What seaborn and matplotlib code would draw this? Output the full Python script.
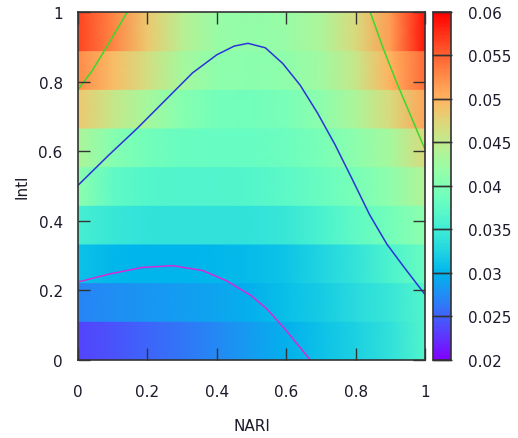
import numpy as np
import matplotlib
matplotlib.use("Agg")
import matplotlib.pyplot as plt
import seaborn as sns

# --- grid of the colour map ---
nari = [0.0, 0.1, 0.2, 0.3, 0.4, 0.5, 0.6, 0.7, 0.8, 0.9, 1.0]
intl_edges = np.linspace(0, 1, 10)  # 9 horizontal bands

# one list per band, bottom band first
band1 = [0.0235, 0.0243, 0.0252, 0.0262, 0.0272, 0.0285, 0.0298, 0.0310, 0.0322, 0.0338, 0.0365]
band2 = [0.0270, 0.0275, 0.0280, 0.0285, 0.0290, 0.0298, 0.0308, 0.0318, 0.0332, 0.0345, 0.0365]
band3 = [0.0310, 0.0302, 0.0300, 0.0300, 0.0302, 0.0306, 0.0312, 0.0325, 0.0342, 0.0360, 0.0382]
band4 = [0.0355, 0.0345, 0.0340, 0.0338, 0.0338, 0.0340, 0.0345, 0.0358, 0.0375, 0.0392, 0.0410]
band5 = [0.0410, 0.0375, 0.0366, 0.0364, 0.0364, 0.0366, 0.0372, 0.0382, 0.0395, 0.0412, 0.0440]
band6 = [0.0435, 0.0405, 0.0390, 0.0382, 0.0380, 0.0380, 0.0385, 0.0395, 0.0410, 0.0430, 0.0470]
band7 = [0.0485, 0.0455, 0.0430, 0.0405, 0.0392, 0.0390, 0.0395, 0.0410, 0.0435, 0.0470, 0.0510]
band8 = [0.0525, 0.0495, 0.0465, 0.0430, 0.0412, 0.0408, 0.0412, 0.0425, 0.0455, 0.0500, 0.0545]
band9 = [0.0565, 0.0530, 0.0485, 0.0445, 0.0420, 0.0415, 0.0420, 0.0435, 0.0470, 0.0515, 0.0590]
bands = [band1, band2, band3, band4, band5, band6, band7, band8, band9]

# --- contour lines (0.03, 0.04, 0.05) ---
c03_x = [0.0, 0.09, 0.186, 0.273, 0.359, 0.427, 0.499, 0.544, 0.592, 0.640, 0.669]
c03_y = [0.224, 0.247, 0.266, 0.271, 0.257, 0.228, 0.185, 0.147, 0.094, 0.036, 0.0]

c04_x = [0.0, 0.09, 0.17, 0.25, 0.33, 0.40, 0.45, 0.49, 0.54, 0.59, 0.64, 0.69, 0.74, 0.79, 0.84, 0.89, 0.94, 1.0]
c04_y = [0.502, 0.59, 0.665, 0.745, 0.825, 0.877, 0.902, 0.910, 0.897, 0.852, 0.79, 0.71, 0.62, 0.52, 0.418, 0.333, 0.266, 0.188]

c05a_x = [0.0, 0.04, 0.09, 0.142]
c05a_y = [0.777, 0.830, 0.912, 1.0]
c05b_x = [0.842, 0.880, 0.918, 1.0]
c05b_y = [1.0, 0.894, 0.798, 0.605]

cb_ticks = [0.02, 0.025, 0.03, 0.035, 0.04, 0.045, 0.05, 0.055, 0.06]
vmin, vmax = 0.02, 0.06

sns.set_style("white")
plt.rcParams['font.family'] = ['DejaVu Sans']
plt.rcParams['font.size'] = 11
plt.rcParams['axes.axisbelow'] = False
text_col = '#1a1a2a'
frame_col = '#333333'

fig = plt.figure(figsize=(5.18, 4.39), dpi=100)
ax = fig.add_axes([0.1506, 0.1777, 0.6699, 0.7927])
cax = fig.add_axes([0.8359, 0.1777, 0.0347, 0.7927])

xg = np.asarray(nari)
mesh = None
for i, row in enumerate(bands):
    X = np.vstack([xg, xg])
    Y = np.vstack([np.full(len(xg), intl_edges[i]), np.full(len(xg), intl_edges[i + 1])])
    C = np.vstack([row, row])
    mesh = ax.pcolormesh(X, Y, C, shading='gouraud', cmap='rainbow',
                         vmin=vmin, vmax=vmax, antialiased=False)

line_kw = dict(sort=False, estimator=None, linewidth=1.1, ax=ax, legend=False)
sns.lineplot(x=c03_x, y=c03_y, color='#d62ad6', **line_kw)
sns.lineplot(x=c04_x, y=c04_y, color='#2a35d8', **line_kw)
sns.lineplot(x=c05a_x, y=c05a_y, color='#3cd82a', **line_kw)
sns.lineplot(x=c05b_x, y=c05b_y, color='#3cd82a', **line_kw)

ax.set_axisbelow(False)
ax.set_xlim(0, 1)
ax.set_ylim(0, 1)
ax.set_xticks([0, 0.2, 0.4, 0.6, 0.8, 1])
ax.set_yticks([0, 0.2, 0.4, 0.6, 0.8, 1])
ax.set_xticklabels(['0', '0.2', '0.4', '0.6', '0.8', '1'])
ax.set_yticklabels(['0', '0.2', '0.4', '0.6', '0.8', '1'])
ax.tick_params(axis='both', direction='in', length=8.5, width=1, color=frame_col,
               bottom=True, left=True, top=True, right=True, labelcolor=text_col)
ax.tick_params(axis='x', pad=17)
ax.tick_params(axis='y', pad=11)
for sp in ax.spines.values():
    sp.set_visible(True)
    sp.set_color(frame_col)
    sp.set_linewidth(1.2)
    sp.set_zorder(5)

ax.set_xlabel('NARI', color=text_col)
ax.set_ylabel('Intl', color=text_col)
ax.xaxis.set_label_coords(0.5, -0.167)
ax.yaxis.set_label_coords(-0.141, 0.5)

cb = fig.colorbar(mesh, cax=cax, ticks=cb_ticks)
cb.ax.set_yticklabels([f'{t:g}' for t in cb_ticks])
cb.outline.set_edgecolor(frame_col)
cb.outline.set_linewidth(1.2)
cax.set_axisbelow(False)
cax.tick_params(direction='in', length=14, width=1, color=frame_col,
                right=True, left=True, labelleft=False, labelright=True,
                pad=12, labelcolor=text_col)

fig.savefig('out.png', dpi=100)
